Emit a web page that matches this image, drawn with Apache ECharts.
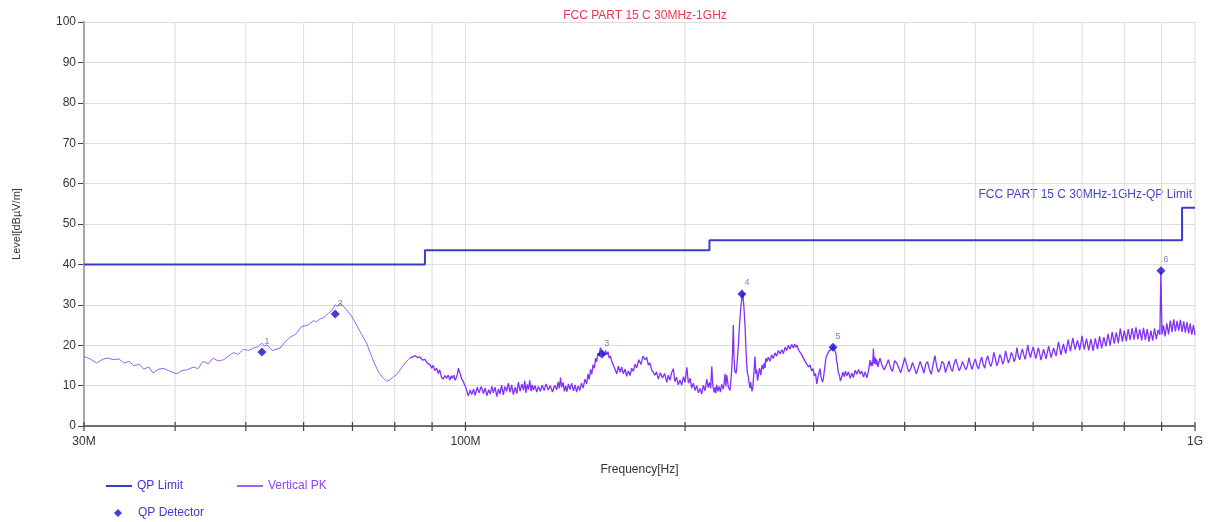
<!DOCTYPE html>
<html>
<head>
<meta charset="utf-8">
<script src="https://cdn.jsdelivr.net/npm/echarts@6/dist/echarts.min.js"></script>
<style>html,body{margin:0;padding:0;background:#fff}#c{width:1213px;height:522px}</style>
</head>
<body>
<div id="c"></div>
<script>
// ---- data ----
const titleText = 'FCC PART 15 C 30MHz-1GHz';
const limitName = 'FCC PART 15 C 30MHz-1GHz-QP Limit';
const limitFreq = [30, 88, 216, 960, 1000];
const limitLevel = [40, 43.5, 46, 54, 54];
const qpFreq = [52.6, 66.3, 153.8, 239.3, 319.0, 898.0];
const qpLevel = [18.3, 27.7, 17.8, 32.7, 19.5, 38.4];
const gridFreq = [30, 40, 50, 60, 70, 80, 90, 100, 200, 300, 400, 500, 600, 700, 800, 900, 1000];
const xTickLabels = {30: '30M', 100: '100M', 1000: '1G'};
const pkLow = [[30,17.2],[30.6,16.6],[31.2,15.6],[31.9,16.6],[32.4,16.8],[32.9,16.4],[33.5,16.6],[34.0,15.6],[34.6,16.0],[35.1,14.9],[35.7,15.3],[36.2,14.1],[36.8,14.6],[37.3,13.1],[37.9,14.0],[38.5,14.3],[39.3,13.6],[40.2,12.9],[40.8,13.7],[41.5,13.9],[42.4,14.6],[43.0,14.2],[43.7,16.0],[44.4,15.4],[45.1,16.8],[45.8,16.1],[46.6,16.4],[47.3,17.3],[48.1,18.2],[48.8,17.7],[49.6,19.0],[50.4,18.7],[51.2,19.3],[51.9,19.6],[52.6,20.5],[53.0,19.8],[53.4,20.1],[54.0,19.2],[54.4,18.7],[55.0,19.0],[55.7,19.3],[56.6,20.8],[57.5,22.0],[58.5,22.7],[59.6,24.6],[60.7,24.9],[61.9,26.1],[62.5,25.8],[63.2,26.5],[64.0,26.9],[64.9,27.9],[65.6,28.6],[66.3,30.0],[66.8,29.6],[67.3,30.4],[68.0,29.7],[68.7,28.8],[69.8,27.2],[70.9,25.0],[72.0,22.8],[73.2,20.5],[74.2,17.6],[75.2,15.1],[76.2,13.0],[77.2,11.8],[78.0,11.1],[78.8,11.4],[79.6,12.1],[80.5,12.7],[81.5,14.1],[82.6,15.6],[83.9,16.8]];
const pkMid = [[85.3,17.4],[86.0,16.9],[86.6,17.1],[87.3,16.3],[88.0,16.5],[88.7,15.5],[89.4,15.2],[89.9,14.3],[90.3,15.0],[90.8,13.7],[91.3,14.3],[91.8,13.0],[92.2,13.9],[92.7,12.1],[93.2,11.6],[93.7,12.5],[94.2,11.8],[94.7,12.6],[95.2,11.4],[95.6,12.4],[96.0,11.8],[96.4,12.6],[96.8,11.3],[97.2,12.0],[97.5,12.9],[97.8,14.3],[98.1,13.4],[98.4,12.8],[98.7,11.9],[99.3,11.0],[99.7,10.2],
[100.1,9.6],[100.9,7.4],[101.5,8.9],[102.0,7.8],[102.6,9.1],[103.1,7.6],[103.8,9.6],[104.4,8.2],[105.1,9.8],[105.8,8.0],[106.4,9.4],[107.0,7.5],[107.6,9.0],[108.1,7.9],[108.7,9.8],[109.2,8.2],[109.8,9.6],[110.4,7.3],[111.0,9.2],[111.5,7.9],[112.1,10.1],[112.7,7.7],[113.3,9.8],[113.9,8.6],[114.5,10.6],[115.1,8.3],[115.7,10.2],[116.3,7.8],[117.0,9.6],[117.6,8.0],[118.2,10.9],[118.8,8.6],[119.5,10.4],[120.1,8.9],[120.6,11.2],[121.0,8.2],[121.5,10.3],[122.0,9.0],[122.5,11.3],[123.0,8.6],[123.5,10.2],[123.9,8.9],[124.6,10.0],[125.2,8.4],[125.9,9.8],[126.6,8.6],[127.4,10.1],[128.2,8.8],[129.0,10.4],[129.9,8.9],[130.7,10.0],[131.6,8.4],[132.5,10.1],[133.4,9.0],[134.0,10.9],[134.5,9.3],[135.0,12.0],[135.5,9.6],[136.1,10.8],[136.6,8.6],[137.2,9.9],[137.7,8.5],[138.4,10.4],[139.1,9.0],[139.8,10.6],[140.6,8.7],[141.3,10.2],[142.0,8.4],[142.7,9.9],[143.5,8.8],[144.2,10.6],[145.0,9.4],[145.8,11.6],[146.6,10.4],[147.2,12.9],[147.8,11.5],[148.4,14.0],[149.0,12.8],[149.6,15.2],[150.2,14.3],[150.8,16.8],[151.3,15.9],[151.9,18.0],[152.5,17.3],[153.1,19.4],[153.7,18.6],[154.4,19.0],[155.0,17.4],[155.6,18.7],[156.2,17.6],[156.8,18.4],[157.4,16.8],[158.0,17.3],[158.7,16.0],[159.3,15.6],[160.0,14.4],[160.6,14.2],[161.2,12.9],[162.0,14.8],[162.9,13.3],[163.7,14.6],[164.6,12.9],[165.5,14.1],[166.3,12.3],[167.2,13.6],[168.1,12.5],[169.0,14.3],[169.9,13.5],[170.8,15.3],[171.7,14.4],[172.8,16.4],[174.0,15.2],[175.1,17.3],[176.3,16.4],[177.2,17.0],[178.1,15.1],[179.0,15.6],[180.0,13.9],[181.0,14.3],[181.9,12.6],[182.8,13.4],[183.8,11.6],[185.0,13.2],[186.2,11.9],[187.5,13.0],[188.8,10.8],[189.7,12.6],[190.7,11.3],[191.7,13.2],[192.7,14.2],[193.7,11.0],[194.7,12.1],[195.7,10.2],[196.8,11.4],[197.9,10.1],[199.0,12.2],[200.0,10.8],[201.1,14.5],[202.1,10.6],[203.2,11.8],[204.2,9.4],[205.3,10.6],[206.4,8.8],[207.5,10.0],[208.6,8.2],[209.7,9.3],[210.8,7.9],[211.9,10.1],[213.0,8.7],[214.2,11.6],[215.1,9.5],[216.0,10.8],[216.8,9.3],[217.6,14.7],[218.2,10.6],[218.7,9.2],[219.3,8.3],[219.8,9.6],[220.4,8.1],[221.0,10.2],[221.8,8.6],[222.7,9.8],[223.6,8.4],[224.5,10.3],[225.7,9.1],[226.9,12.9],[227.5,9.8],[228.1,12.6],[229.3,9.6],[230.5,8.8],[231.1,11.0],[231.7,13.9],[232.3,18.0],[232.9,25.0],[233.4,17.0],[234.0,13.5],[234.9,13.0],[235.5,14.6],[236.2,18.0],[236.8,21.0],[237.4,24.6],[238.3,28.7],[239.2,31.5],[239.9,33.0],[240.8,29.5],[241.7,24.6],[242.3,19.6],[242.9,15.5],[243.5,13.1],[244.2,12.2],[244.8,10.6],[245.5,9.4],[246.0,10.9],[246.5,9.6],[247.0,8.6],[247.6,9.4],[248.5,13.0],
[249.4,17.2],[250.1,12.9],[250.7,14.0],[251.4,11.2],[252.0,12.4],[253.0,14.3],[254.0,12.6],[255.0,15.1],[256.0,14.0],[256.7,15.6],[257.4,14.3],[258.1,16.8],[258.8,15.9],[260.1,17.0],[261.5,16.0],[262.8,17.6],[264.2,16.7],[265.6,18.1],[267.0,17.3],[268.4,18.7],[269.9,17.8],[271.3,18.9],[272.8,17.9],[274.2,19.5],[275.7,18.7],[277.1,20.0],[278.6,19.0],[280.0,20.2],[281.5,19.3],[282.6,20.3],[283.7,19.5],[284.8,20.0],[286.0,18.9],[287.5,19.2],[289.0,17.6],[290.5,17.9],[292.1,16.0],[293.6,16.4],[295.2,14.6],[296.7,15.1],[298.3,13.6],[299.5,14.2],[300.7,12.4],[301.9,13.0],[303.1,10.4],[303.8,11.5],[304.6,12.6],[305.4,13.4],[306.2,14.2],[307.0,12.4],[307.8,11.6],[308.6,10.9],[309.4,11.6],[310.2,13.2],[311.0,14.8],[311.8,16.6],[312.7,17.4],[313.8,17.9],[315.0,18.6],[316.3,18.2],[317.6,19.0],[318.4,19.4],[319.3,19.8],[320.1,19.0],[321.0,19.4],[321.6,18.3],[322.2,17.5],[322.7,16.0],[323.3,15.5],[324.4,13.2],[325.5,12.6],[326.6,11.1],[327.8,12.0],[329.1,13.3],[330.5,12.2],[331.8,13.6],[333.2,12.4],[335.0,13.4],[336.8,11.8],[338.5,13.1],[340.3,12.0],[342.1,13.8],[343.9,12.8],[345.7,14.0],[347.5,12.9],[349.3,13.6],[351.2,12.1],[353.0,13.4],[354.9,11.9],[356.8,13.6],[358.6,16.3],[359.5,14.8],[360.5,15.9],[361.5,14.9],[362.4,19.2],[363.4,15.4],[364.3,17.0],[365.3,15.2],[366.3,16.5]];
const pkHigh = [[370,16.8],[375,13.9],[380,16.4],[385,13.5],[390,15.6],[395,13.2],[400,16.9],[405,13.4],[410,15.7],[415,12.9],[420,16.0],[425,13.1],[430,15.9],[435,12.8],[440,17.4],[445,13.3],[450,16.0],[455,13.2],[460,16.1],[465,13.5],[470,16.6],[475,13.7],[480,16.0],[485,13.9],[490,16.9],[495,14.0],[500,16.6],[505,14.1],[510,17.1],[515,14.3],[520,17.4],[525,14.7],[530,18.2],[535,14.9],[540,17.7],[545,15.3],[550,18.6],[555,15.6],[560,18.2],[565,15.9],[570,19.4],[575,16.4],[580,19.1],[585,16.5],[590,20.1],[595,16.9],[600,19.6],[605,16.7],[610,19.4],[615,16.3],[620,19.0],[625,16.6],[630,19.8],[635,16.9],[640,19.3],[645,17.3],[650,20.8],[655,17.6],[660,20.3],[665,17.9],[670,21.4],[675,18.5],[680,21.8],[685,18.9],[690,21.2],[695,18.8],[700,22.3],[705,18.9],[710,21.6],[715,18.7],[720,21.5],[725,18.6],[730,21.7],[735,19.0],[740,22.2],[745,19.2],[750,22.0],[755,19.7],[760,22.8],[765,19.9],[770,23.3],[775,20.4],[780,23.2],[785,20.5],[790,24.1],[795,20.9],[800,23.6],[805,21.0],[810,24.0],[815,21.3],[820,24.2],[825,21.4],[830,24.4],[835,21.5],[840,23.9],[845,21.2],[850,24.3],[855,21.3],[860,24.0],[865,20.9],[870,23.6],[875,21.1],[880,24.2],[885,21.5],[890,23.8],[895,22.6],[898,38.2],[901,22.6],[905,24.9],[910,22.2],[915,25.4],[920,22.7],[925,26.1],[930,23.3],[935,26.4],[940,23.4],[945,26.0],[950,23.6],[955,26.3],[960,23.3],[965,25.9],[970,23.1],[975,25.7],[980,22.9],[985,25.4],[990,22.6],[995,25.0],[1000,22.5]];
const pkHighFill = [[367.5,14.6],[372.5,14.9],[377.5,15.1],[382.5,14.4],[387.5,16.2],[392.5,14.5],[397.5,14.9],[402.5,15.2],[407.5,14.1],[412.5,16.0],[417.5,14.4],[422.5,14.6],[427.5,15.3],[432.5,14.0],[437.5,15.2],[442.5,14.8],[447.5,14.2],[452.5,15.5],[457.5,14.6],[462.5,14.3],[467.5,15.4],[472.5,15.0],[477.5,14.5],[482.5,16.3],[487.5,14.8],[492.5,15.1],[497.5,15.6],[502.5,14.9],[507.5,15.8],[512.5,15.2],[517.5,16.4],[522.5,15.6],[527.5,16.0],[532.5,16.7],[537.5,15.8],[542.5,16.9],[547.5,16.3],[552.5,17.0],[557.5,16.6],[562.5,17.5],[567.5,16.9],[572.5,17.3],[577.5,17.9],[582.5,17.6],[587.5,18.2],[592.5,18.0],[597.5,18.4]];

// ---- build ----
const FONT = 'Liberation Sans, Arial, sans-serif';
const PK_COLOR = '#8030ff';
const LIM_COLOR = '#3b3bd0';
const pkDenseData = [pkLow[pkLow.length - 1]].concat(pkMid, pkHigh.concat(pkHighFill).sort((a, b) => a[0] - b[0]));
const limitData = limitFreq.map((f, i) => [f, limitLevel[i]]);
const qpData = qpFreq.map((f, i) => [f, qpLevel[i]]);
const chart = echarts.init(document.getElementById('c'), null, {renderer: 'canvas'});
chart.setOption({
  animation: false,
  backgroundColor: '#fff',
  textStyle: {fontFamily: FONT},
  title: {text: titleText, left: 640, top: 5, textAlign: 'center',
    textStyle: {color: '#e8394a', fontSize: 12, fontWeight: 'normal', fontFamily: FONT}},
  grid: {left: 84, right: 18, top: 22, bottom: 96},
  legend: [
    {left: 101, top: 475, icon: 'rect', itemWidth: 26, itemHeight: 2, data: ['QP Limit'],
      textStyle: {color: '#3a3acf', fontSize: 12, fontFamily: FONT}},
    {left: 232, top: 475, icon: 'rect', itemWidth: 26, itemHeight: 2, data: ['Vertical PK'],
      textStyle: {color: '#9040ff', fontSize: 12, fontFamily: FONT}},
    {left: 109, top: 502, itemWidth: 8, itemHeight: 8, data: [{name: 'QP Detector', icon: 'diamond'}],
      textStyle: {color: '#3a3acf', fontSize: 12, fontFamily: FONT, padding: [0, 0, 0, 11]}}
  ],
  xAxis: {
    type: 'log', logBase: 10, min: 30, max: 1000,
    name: 'Frequency[Hz]', nameLocation: 'middle', nameGap: 38,
    nameTextStyle: {color: '#333', fontSize: 12, fontFamily: FONT},
    axisLine: {lineStyle: {color: '#444', width: 1.5}},
    axisTick: {show: false},
    splitLine: {show: false},
    axisLabel: {color: '#333', fontSize: 12, margin: 10, fontFamily: FONT,
      formatter: v => xTickLabels[Math.round(v)] || ''}
  },
  yAxis: {
    type: 'value', min: 0, max: 100, interval: 10,
    name: 'Level[dBµV/m]', nameLocation: 'middle', nameGap: 62, nameRotate: 90,
    nameTextStyle: {color: '#333', fontSize: 11, fontFamily: FONT},
    axisLine: {show: true, lineStyle: {color: '#444', width: 1.5}},
    axisTick: {show: true, length: 6, lineStyle: {color: '#444'}},
    splitLine: {lineStyle: {color: '#dcdcdc'}},
    axisLabel: {color: '#333', fontSize: 12, margin: 8, fontFamily: FONT}
  },
  graphic: [{type: 'text', right: 21, top: 189,
    style: {text: limitName, fill: '#4545cc', fontSize: 12, fontFamily: FONT}}],
  series: [
    {type: 'custom', name: 'grid', silent: true, z: 1, legendHoverLink: false,
      data: gridFreq.map(f => [f, 0]), encode: {x: 0, y: 1}, clip: false,
      renderItem: (params, api) => {
        const f = api.value(0);
        const top = api.coord([f, 100]);
        const bot = api.coord([f, 0]);
        return {type: 'group', children: [
          {type: 'line', shape: {x1: top[0], y1: top[1], x2: bot[0], y2: bot[1]}, style: {stroke: '#dcdcdc', lineWidth: 1}},
          {type: 'line', shape: {x1: bot[0], y1: bot[1] - 4, x2: bot[0], y2: bot[1] + 5}, style: {stroke: '#444', lineWidth: 1.2}}
        ]};
      }},
    {type: 'line', name: 'QP Limit', data: limitData, step: 'end', symbol: 'none', z: 3,
      lineStyle: {color: LIM_COLOR, width: 2}, itemStyle: {color: LIM_COLOR}},
    {type: 'line', name: 'Vertical PK', data: pkLow, symbol: 'none', z: 4,
      lineStyle: {color: '#9a62f5', width: 1}, itemStyle: {color: '#9a62f5'}},
    {type: 'line', name: 'Vertical PK', data: pkDenseData, symbol: 'none', z: 4,
      lineStyle: {color: PK_COLOR, width: 1.3}, itemStyle: {color: PK_COLOR}},
    {type: 'scatter', name: 'QP Detector', data: qpData, symbol: 'diamond', symbolSize: 9, z: 5,
      itemStyle: {color: '#1010d0'},
      label: {show: true, position: 'top', distance: 2, offset: [5, 0], color: '#5a5ad0', fontSize: 9,
        fontFamily: FONT, formatter: p => String(p.dataIndex + 1)}}
  ]
});
</script>
</body>
</html>
